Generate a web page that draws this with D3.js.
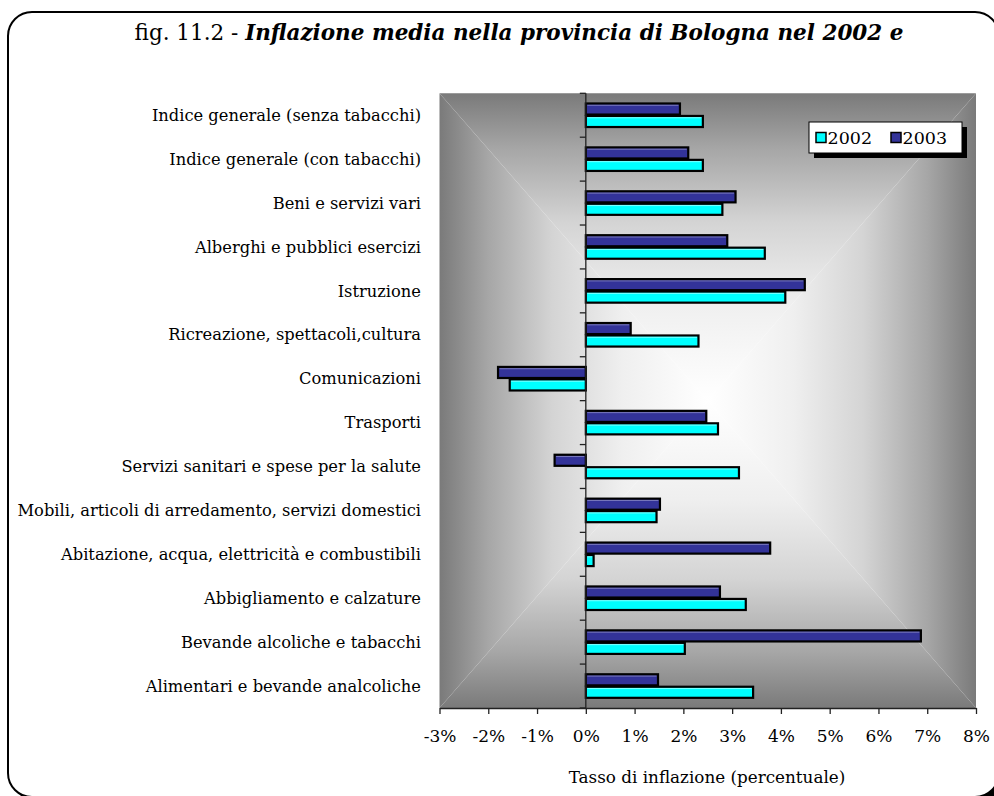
<!DOCTYPE html>
<html>
<head>
<meta charset="utf-8">
<script src="https://cdn.jsdelivr.net/npm/d3@7"></script>
<style>
  body { margin: 0; background: #fff; }
  text { font-family: "DejaVu Serif", serif; fill: #000; }
</style>
</head>
<body>
<div id="chart"></div>
<script>
// categories, top to bottom as shown
const categories = [
  "Indice generale (senza tabacchi)",
  "Indice generale (con tabacchi)",
  "Beni e servizi vari",
  "Alberghi e pubblici esercizi",
  "Istruzione",
  "Ricreazione, spettacoli,cultura",
  "Comunicazioni",
  "Trasporti",
  "Servizi sanitari e spese per la salute",
  "Mobili, articoli di arredamento, servizi domestici",
  "Abitazione, acqua, elettricità e combustibili",
  "Abbigliamento e calzature",
  "Bevande alcoliche e tabacchi",
  "Alimentari e bevande analcoliche"
];
const values2002 = [2.4, 2.4, 2.8, 3.67, 4.09, 2.31, -1.56, 2.71, 3.14, 1.45, 0.16, 3.28, 2.03, 3.43];
const values2003 = [1.93, 2.1, 3.07, 2.9, 4.49, 0.92, -1.8, 2.47, -0.64, 1.52, 3.78, 2.75, 6.87, 1.48];
const seriesNames = ["2002", "2003"];
const seriesColors = ["#00ffff", "#333399"];
const xTicks = [-3, -2, -1, 0, 1, 2, 3, 4, 5, 6, 7, 8];

const titlePlain = "fig. 11.2 - ";
const titleBold = "Inflazione media nella provincia di Bologna nel 2002 e";
const xTitle = "Tasso di inflazione (percentuale)";

const W = 994, H = 796;
const plot = { left: 439.5, right: 976, top: 93.3, bottom: 708 };

const svg = d3.select("#chart").append("svg")
  .attr("width", W).attr("height", H);

// --- outer frame with shadow ---
svg.append("rect")
  .attr("x", 14).attr("y", 18).attr("width", 991).attr("height", 785)
  .attr("rx", 24).attr("fill", "#000");
svg.append("rect")
  .attr("x", 8).attr("y", 12).attr("width", 991).attr("height", 785)
  .attr("rx", 24).attr("fill", "#fff").attr("stroke", "#000").attr("stroke-width", 2);

// --- scales ---
const x = d3.scaleLinear().domain([-3, 8]).range([plot.left, plot.right]);
const y = d3.scaleBand().domain(categories).range([plot.top, plot.bottom]);
const sub = d3.scaleBand().domain(["2003", "2002"]).range([0, y.bandwidth()])
  .paddingInner(0).paddingOuter(0.76);

// --- plot area: rectangular "from center" gradient ---
const defs = svg.append("defs");
const cx = (plot.left + plot.right) / 2, cy = (plot.top + plot.bottom) / 2;
const stops = [
  [0, "#7a7a7a"], [0.18, "#a6a6a6"], [0.42, "#d4d4d4"], [0.68, "#efefef"], [1, "#ffffff"]
];
const grads = [
  { id: "gL", x1: plot.left, y1: 0, x2: cx, y2: 0,
    pts: [[plot.left, plot.top], [cx, cy], [plot.left, plot.bottom]] },
  { id: "gR", x1: plot.right, y1: 0, x2: cx, y2: 0,
    pts: [[plot.right, plot.top], [cx, cy], [plot.right, plot.bottom]] },
  { id: "gT", x1: 0, y1: plot.top, x2: 0, y2: cy,
    pts: [[plot.left, plot.top], [cx, cy], [plot.right, plot.top]] },
  { id: "gB", x1: 0, y1: plot.bottom, x2: 0, y2: cy,
    pts: [[plot.left, plot.bottom], [cx, cy], [plot.right, plot.bottom]] }
];
grads.forEach(g => {
  const lg = defs.append("linearGradient").attr("id", g.id)
    .attr("gradientUnits", "userSpaceOnUse")
    .attr("x1", g.x1).attr("y1", g.y1).attr("x2", g.x2).attr("y2", g.y2);
  stops.forEach(s => lg.append("stop").attr("offset", s[0]).attr("stop-color", s[1]));
  svg.append("polygon")
    .attr("points", g.pts.map(p => p.join(",")).join(" "))
    .attr("fill", `url(#${g.id})`);
});

// --- bars ---
const rows = categories.map((c, i) => ({ cat: c, "2002": values2002[i], "2003": values2003[i] }));
const barG = svg.append("g");
seriesNames.forEach((s, si) => {
  const bx = d => x(Math.min(0, d[s]));
  const bw = d => Math.abs(x(d[s]) - x(0));
  const by = d => y(d.cat) + sub(s) + 0.7;
  barG.selectAll(null).data(rows).join("rect")
    .attr("x", bx).attr("y", by)
    .attr("width", bw)
    .attr("height", sub.bandwidth() - 1.4)
    .attr("fill", seriesColors[si])
    .attr("stroke", "#000").attr("stroke-width", 2.2);
  // thin highlight just inside the top edge
  barG.selectAll(null).data(rows.filter(d => bw(d) > 4)).join("line")
    .attr("x1", d => bx(d) + 1.5).attr("x2", d => bx(d) + bw(d) - 1.5)
    .attr("y1", d => by(d) + 1.8).attr("y2", d => by(d) + 1.8)
    .attr("stroke", "#fff").attr("stroke-opacity", si ? 0.35 : 0.5).attr("stroke-width", 1);
});

// --- vertical axis at zero with category ticks ---
const axisG = svg.append("g").attr("stroke", "#222").attr("stroke-width", 1.3);
axisG.append("line")
  .attr("x1", x(0)).attr("x2", x(0))
  .attr("y1", plot.top).attr("y2", plot.bottom);
axisG.selectAll(null)
  .data(categories.map(c => y(c)).concat([plot.bottom]))
  .join("line")
  .attr("x1", x(0) - 6).attr("x2", x(0))
  .attr("y1", d => d).attr("y2", d => d);

// --- bottom axis ---
const xAxis = svg.append("g")
  .attr("transform", `translate(0,${plot.bottom})`)
  .call(d3.axisBottom(x).tickValues(xTicks).tickFormat(d => d + "%")
    .tickSize(6).tickSizeOuter(0).tickPadding(16));
xAxis.select(".domain").attr("stroke", "#222").attr("stroke-width", 1.3);
xAxis.selectAll(".tick line").attr("stroke", "#222").attr("stroke-width", 1.3);
xAxis.selectAll(".tick text")
  .attr("font-family", "DejaVu Serif").attr("font-size", 17).attr("fill", "#000");

// --- category labels ---
svg.append("g").selectAll(null).data(categories).join("text")
  .attr("x", 421)
  .attr("y", d => y(d) + y.bandwidth() / 2)
  .attr("dy", "0.35em")
  .attr("text-anchor", "end")
  .attr("font-size", 16.3)
  .text(d => d);

// --- title ---
const title = svg.append("text")
  .attr("x", 519).attr("y", 40)
  .attr("text-anchor", "middle")
  .attr("font-size", 21.5);
title.append("tspan").text(titlePlain);
title.append("tspan").attr("font-weight", "bold").attr("font-style", "italic").text(titleBold);

// --- x axis title ---
svg.append("text")
  .attr("x", 707).attr("y", 783)
  .attr("text-anchor", "middle")
  .attr("font-size", 16.8)
  .text(xTitle);

// --- legend ---
const lg = svg.append("g").attr("transform", "translate(809,122)");
lg.append("rect").attr("x", 5).attr("y", 5).attr("width", 153).attr("height", 31).attr("fill", "#000");
lg.append("rect").attr("width", 153).attr("height", 31)
  .attr("fill", "#fff").attr("stroke", "#000").attr("stroke-width", 1);
const items = lg.selectAll(null).data(seriesNames).join("g")
  .attr("transform", (d, i) => `translate(${7 + i * 75},0)`);
items.append("rect")
  .attr("x", 0).attr("y", 10.5).attr("width", 10).attr("height", 10)
  .attr("fill", (d, i) => seriesColors[i]).attr("stroke", "#000").attr("stroke-width", 1.5);
items.append("text")
  .attr("x", 11.5).attr("y", 22)
  .attr("font-size", 17.5)
  .text(d => d);
</script>
</body>
</html>
